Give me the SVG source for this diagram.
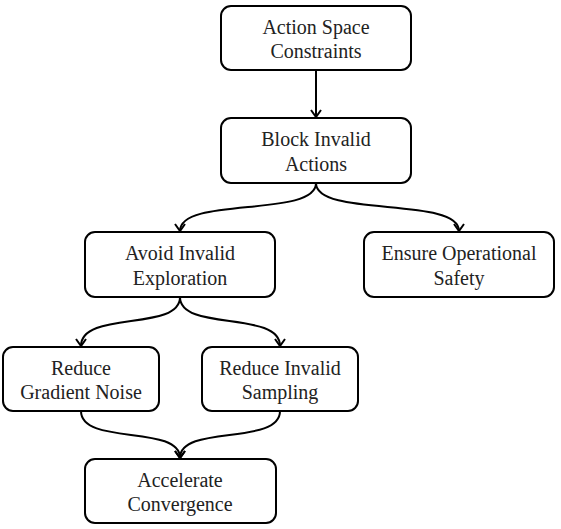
<svg xmlns="http://www.w3.org/2000/svg" width="561" height="529" viewBox="0 0 561 529">
<style>
.node rect{fill:#fff;stroke:#000;stroke-width:2}
.node text{font-family:"Liberation Serif","Times New Roman",serif;font-size:20px;fill:#222;text-anchor:middle}
.edges path{fill:none;stroke:#000;stroke-width:2}
</style>
<defs>
<marker id="arr" viewBox="0 0 12 12" refX="10" refY="6" markerWidth="12" markerHeight="12" markerUnits="userSpaceOnUse" orient="auto">
<path d="M3,1 L10,6 L3,11" fill="none" stroke="#000" stroke-width="2"/>
</marker>
</defs>
<rect width="561" height="529" fill="#fff"/>
<g class="edges">
<path d="M316,70 L316,117" marker-end="url(#arr)"/>
<path d="M316,183 C316,218 180,196 180,231" marker-end="url(#arr)"/>
<path d="M316,183 C316,218 459,196 459,231" marker-end="url(#arr)"/>
<path d="M180,297 C180,332 81,310 81,346" marker-end="url(#arr)"/>
<path d="M180,297 C180,332 280,310 280,346" marker-end="url(#arr)"/>
<path d="M81,411 C81,446 180,424 180,458" marker-end="url(#arr)"/>
<path d="M280,411 C280,446 180,424 180,458" marker-end="url(#arr)"/>
</g>
<g id="n1" class="node"><rect x="221" y="6" width="190" height="64" rx="10"/><text x="316" y="34">Action Space</text><text x="316" y="58">Constraints</text></g>
<g id="n2" class="node"><rect x="221" y="118" width="190" height="65" rx="10"/><text x="316" y="146">Block Invalid</text><text x="316" y="171">Actions</text></g>
<g id="n3" class="node"><rect x="85" y="232" width="190" height="65" rx="10"/><text x="180" y="260">Avoid Invalid</text><text x="180" y="285">Exploration</text></g>
<g id="n4" class="node"><rect x="364" y="232" width="190" height="65" rx="10"/><text x="459" y="260">Ensure Operational</text><text x="459" y="285">Safety</text></g>
<g id="n5" class="node"><rect x="3" y="347" width="156" height="64" rx="10"/><text x="81" y="375">Reduce</text><text x="81" y="399">Gradient Noise</text></g>
<g id="n6" class="node"><rect x="202" y="347" width="156" height="64" rx="10"/><text x="280" y="375">Reduce Invalid</text><text x="280" y="399">Sampling</text></g>
<g id="n7" class="node"><rect x="85" y="459" width="191" height="64" rx="10"/><text x="180" y="487">Accelerate</text><text x="180" y="511">Convergence</text></g>
</svg>
